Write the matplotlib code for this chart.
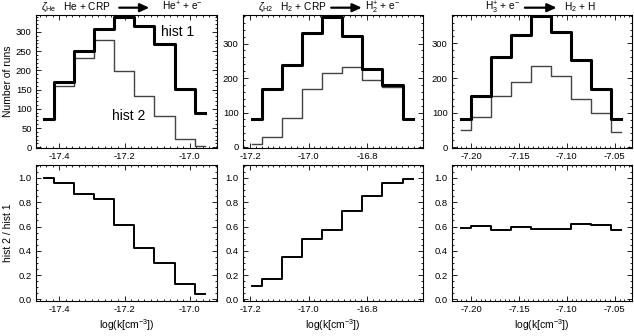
import matplotlib
matplotlib.use('Agg')
import matplotlib.pyplot as plt
from matplotlib.ticker import MultipleLocator, FormatStrFormatter

plt.rcParams['font.family'] = ['Liberation Sans', 'DejaVu Sans']
plt.rcParams['mathtext.fontset'] = 'custom'
plt.rcParams['mathtext.rm'] = 'Liberation Sans'
plt.rcParams['mathtext.it'] = 'Liberation Sans:italic'

# bin centres (log k) and counts
x_he = [-17.447, -17.385, -17.324, -17.262, -17.201, -17.139, -17.078, -17.016, -16.955]
hist1_he = [73, 170, 250, 308, 340, 315, 268, 151, 90]
hist2_he = [73, 159, 233, 280, 198, 132, 80, 21, 4]
ratio_he = [1.00, 0.955, 0.87, 0.83, 0.61, 0.42, 0.30, 0.13, 0.04]

x_h2 = [-17.194, -17.125, -17.057, -16.988, -16.919, -16.851, -16.782, -16.713, -16.644]
hist1_h2 = [80, 169, 237, 330, 378, 321, 226, 180, 81]
hist2_h2 = [9, 30, 83, 167, 216, 233, 194, 173, 80]
ratio_h2 = [0.11, 0.17, 0.345, 0.50, 0.575, 0.73, 0.85, 0.96, 0.99]

x_h3 = [-7.2104, -7.1895, -7.1686, -7.1477, -7.1268, -7.1059, -7.0850, -7.0641, -7.0432]
hist1_h3 = [82, 149, 262, 325, 380, 334, 253, 167, 82]
hist2_h3 = [50, 87, 147, 190, 236, 207, 140, 98, 44]
ratio_h3 = [0.584, 0.606, 0.57, 0.592, 0.578, 0.581, 0.62, 0.614, 0.57]

xticks_he = [-17.4, -17.2, -17.0]
xticks_h2 = [-17.2, -17.0, -16.8]
xticks_h3 = [-7.20, -7.15, -7.10, -7.05]

# title pieces: left of arrow, right of arrow
titles = [
    (r"$\zeta_{\rm He}$   He + CRP", r"He$^{+}$ + e$^{-}$"),
    (r"$\zeta_{\rm H2}$   H$_2$ + CRP", r"H$_2^{+}$ + e$^{-}$"),
    (r"H$_3^{+}$ + e$^{-}$", r"H$_2$ + H"),
]

panels = [
    dict(x=x_he, h1=hist1_he, h2=hist2_he, r=ratio_he, xlim=(-17.471, -16.917),
         xticks=xticks_he, xfmt='%.1f', xminor=0.02, ylim=(-2, 344), ymaj=50, ymin=10,
         left=36, tl=(0.416, 0.46, 0.626, 0.698)),
    dict(x=x_h2, h1=hist1_h2, h2=hist2_h2, r=ratio_h2, xlim=(-17.224, -16.609),
         xticks=xticks_h2, xfmt='%.1f', xminor=0.02, ylim=(-3, 383), ymaj=100, ymin=20,
         left=243, tl=(0.465, 0.49, 0.66, 0.675)),
    dict(x=x_h3, h1=hist1_h3, h2=hist2_h3, r=ratio_h3, xlim=(-7.2198, -7.032),
         xticks=xticks_h3, xfmt='%.2f', xminor=0.005, ylim=(-2, 382), ymaj=100, ymin=20,
         left=452, tl=(0.378, 0.405, 0.581, 0.62)),
]

W, H = 634, 336
fig = plt.figure(figsize=(W / 100, H / 100), dpi=100)


def style(ax):
    ax.tick_params(which='both', direction='in', top=True, right=True,
                   labelsize=6.8, pad=3, width=0.6)
    ax.tick_params(which='major', length=3.5)
    ax.tick_params(which='minor', length=1.6)
    for s in ax.spines.values():
        s.set_linewidth(0.8)


for i, p in enumerate(panels):
    w = 181 if i == 0 else 180
    ax = fig.add_axes([p['left'] / W, 1 - 148 / H, w / W, 133 / H])
    ax.step(p['x'], p['h2'], where='mid', color='#444444', lw=1.0)
    ax.step(p['x'], p['h1'], where='mid', color='black', lw=2.2)
    ax.set_xlim(*p['xlim'])
    ax.set_ylim(*p['ylim'])
    ax.set_xticks(p['xticks'])
    ax.xaxis.set_major_formatter(FormatStrFormatter(p['xfmt']))
    ax.xaxis.set_minor_locator(MultipleLocator(p['xminor']))
    ax.yaxis.set_major_locator(MultipleLocator(p['ymaj']))
    ax.yaxis.set_minor_locator(MultipleLocator(p['ymin']))
    style(ax)

    lt, a0, a1, rt = p['tl']
    ty = 1.035
    ax.text(lt, ty, titles[i][0], transform=ax.transAxes, ha='right', va='baseline', fontsize=7.3)
    ax.text(rt, ty, titles[i][1], transform=ax.transAxes, ha='left', va='baseline', fontsize=7.3)
    ax.annotate('', xy=(a1, ty + 0.02), xytext=(a0, ty + 0.02), xycoords='axes fraction',
                arrowprops=dict(arrowstyle='-|>,head_length=0.55,head_width=0.25',
                                color='black', lw=1.6, shrinkA=0, shrinkB=0),
                annotation_clip=False)

    if i == 0:
        ax.set_ylabel('Number of runs', fontsize=7.5, labelpad=2)
        ax.text(0.692, 0.872, 'hist 1', transform=ax.transAxes, fontsize=10, va='center')
        ax.text(0.418, 0.237, 'hist 2', transform=ax.transAxes, fontsize=10, va='center')

    bx = fig.add_axes([p['left'] / W, 1 - 301 / H, w / W, 136 / H])
    bx.step(p['x'], p['r'], where='mid', color='black', lw=1.4)
    bx.set_xlim(*p['xlim'])
    bx.set_ylim(-0.014, 1.107)
    bx.set_xticks(p['xticks'])
    bx.xaxis.set_major_formatter(FormatStrFormatter(p['xfmt']))
    bx.xaxis.set_minor_locator(MultipleLocator(p['xminor']))
    bx.yaxis.set_major_locator(MultipleLocator(0.2))
    bx.yaxis.set_minor_locator(MultipleLocator(0.05))
    bx.yaxis.set_major_formatter(FormatStrFormatter('%.1f'))
    style(bx)
    bx.set_xlabel(r'log(k[cm$^{-3}$])', fontsize=7.5, labelpad=2)
    if i == 0:
        bx.set_ylabel('hist 2 / hist 1', fontsize=7.5, labelpad=4)

fig.savefig('out.png', dpi=100)
